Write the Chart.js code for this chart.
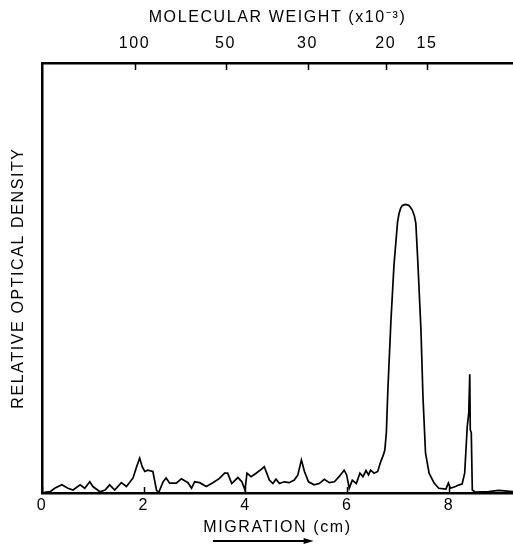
<!DOCTYPE html>
<html><head><meta charset="utf-8">
<script src="https://cdn.jsdelivr.net/npm/chart.js@4/dist/chart.umd.min.js"></script>
<style>html,body{margin:0;padding:0;background:#fff}canvas{display:block}</style>
</head><body>
<canvas id="c" width="513" height="545"></canvas>
<script>
// Migration distance (cm)
const migrationCm = [
  0.00,0.08,0.16,0.25,0.39,0.51,0.61,0.75,0.84,0.94,1.00,1.14,1.24,1.33,1.43,1.56,1.66,1.79,1.86,1.92,
  1.97,2.02,2.08,2.18,2.25,2.29,2.38,2.44,2.51,2.64,2.74,2.87,2.94,3.00,3.10,3.23,3.36,3.49,3.59,3.65,
  3.73,3.85,3.93,3.99,4.03,4.11,4.21,4.31,4.37,4.47,4.54,4.60,4.67,4.76,4.86,4.96,5.03,5.10,5.16,5.24,
  5.35,5.45,5.55,5.65,5.75,5.84,5.94,5.99,6.04,6.10,6.18,6.25,6.31,6.37,6.42,6.46,6.53,6.60,6.66,6.71,
  6.74,6.77,6.80,6.86,6.92,6.99,7.02,7.05,7.08,7.12,7.15,7.18,7.21,7.24,7.28,7.32,7.35,7.39,7.45,7.49,
  7.54,7.61,7.71,7.80,7.94,7.99,8.03,8.13,8.20,8.26,8.31,8.36,8.39,8.41,8.42,8.44,8.46,8.52,8.78,8.90,
  8.98,9.26
];
// Relative optical density (arbitrary units, 0-100 = full axis)
const density = [
  0.0,0.2,0.3,1.1,1.9,1.1,0.7,1.9,1.1,2.6,1.5,0.3,0.7,1.9,0.7,2.4,1.5,3.5,6.1,8.1,
  6.1,5.0,5.3,5.0,0.7,0.0,2.6,3.5,2.3,2.3,3.3,2.4,1.1,2.6,2.4,1.5,2.4,3.4,4.6,4.6,
  2.2,3.6,2.6,0.7,4.6,3.8,4.6,5.5,6.1,3.0,2.2,3.2,2.2,2.6,2.4,3.0,4.2,7.7,5.0,2.6,
  1.9,2.2,3.2,2.4,2.6,3.8,5.3,4.2,1.1,3.0,2.2,4.6,3.8,5.2,4.2,5.3,4.6,5.0,7.3,8.8,
  10.0,14.0,24.0,40.0,53.0,63.0,65.0,66.2,66.8,67.0,67.1,67.0,66.9,66.5,65.8,64.5,62.7,53.5,38.0,22.4,
  9.3,4.6,2.3,1.1,0.9,2.3,1.1,1.5,1.9,2.1,4.6,15.4,18.6,27.6,14.7,14.0,0.7,0.2,0.3,0.5,
  0.6,0.3
];
const bottomTicks = [0, 2, 4, 6, 8];
const mwTickPositions = [1.82, 3.61, 5.22, 6.76, 7.57];
const mwTickLabels = ['100', '50', '30', '20', '15'];
const xMax = 9.26;

const points = migrationCm.map((x, i) => ({x: x, y: density[i]}));

Chart.defaults.font.family = '"Liberation Sans", Arial, Helvetica, sans-serif';
Chart.defaults.color = '#000';

const decor = {
  id: 'decor',
  beforeDraw(chart) {
    const ctx = chart.ctx;
    ctx.save();
    ctx.fillStyle = '#fff';
    ctx.fillRect(0, 0, chart.width, chart.height);
    ctx.restore();
    ctx.letterSpacing = '1.6px';
  },
  afterDraw(chart) {
    const ctx = chart.ctx, a = chart.chartArea;
    const xb = chart.scales.x, xt = chart.scales.x2;
    ctx.save();
    ctx.strokeStyle = '#000';
    ctx.lineWidth = 1.5;
    ctx.beginPath();
    bottomTicks.forEach(v => {
      const px = Math.round(xb.getPixelForValue(v)) + 0.5;
      ctx.moveTo(px, a.bottom); ctx.lineTo(px, a.bottom - 6);
    });
    mwTickPositions.forEach(v => {
      const px = Math.round(xt.getPixelForValue(v)) + 0.5;
      ctx.moveTo(px, a.top); ctx.lineTo(px, a.top + 7);
    });
    ctx.stroke();
    // arrow under the migration title
    const x0 = xb.getPixelForValue(3.36), x1 = xb.getPixelForValue(5.34);
    const y = chart.height - 4;
    ctx.lineWidth = 2;
    ctx.beginPath(); ctx.moveTo(x0, y); ctx.lineTo(x1 - 6, y); ctx.stroke();
    ctx.fillStyle = '#000';
    ctx.beginPath(); ctx.moveTo(x1, y); ctx.lineTo(x1 - 10, y - 3); ctx.lineTo(x1 - 10, y + 3); ctx.closePath(); ctx.fill();
    ctx.restore();
  }
};

new Chart(document.getElementById('c'), {
  type: 'line',
  data: {
    datasets: [{
      data: points,
      borderColor: '#000',
      borderWidth: 1.7,
      pointRadius: 0,
      tension: 0,
      fill: false
    }]
  },
  options: {
    responsive: false,
    animation: false,
    layout: {padding: 0},
    plugins: {legend: {display: false}, tooltip: {enabled: false}},
    scales: {
      x: {
        type: 'linear', position: 'bottom', min: 0, max: xMax,
        afterBuildTicks(s) { s.ticks = bottomTicks.map(v => ({value: v})); },
        ticks: {font: {size: 16}, padding: 3, maxRotation: 0, autoSkip: false, color: '#000'},
        grid: {display: false, drawTicks: false},
        border: {display: true, color: '#000', width: 2.5},
        title: {display: true, text: 'MIGRATION (cm)', font: {size: 16}, color: '#000', padding: {top: 0, bottom: 8}},
        afterFit(s) { s.height = 52; }
      },
      x2: {
        type: 'linear', position: 'top', min: 0, max: xMax,
        afterBuildTicks(s) { s.ticks = mwTickPositions.map(v => ({value: v})); },
        ticks: {font: {size: 16}, padding: 10, maxRotation: 0, autoSkip: false, color: '#000',
                callback: (v, i) => mwTickLabels[i]},
        grid: {display: false, drawTicks: false},
        border: {display: true, color: '#000', width: 2.5},
        title: {display: true, text: 'MOLECULAR WEIGHT (x10⁻³)', font: {size: 16}, color: '#000', padding: {top: 8, bottom: 0}},
        afterFit(s) { s.height = 63; }
      },
      y: {
        min: 0, max: 100,
        ticks: {display: false},
        grid: {display: false, drawTicks: false},
        border: {display: true, color: '#000', width: 2.5},
        title: {display: true, text: 'RELATIVE OPTICAL DENSITY', font: {size: 16}, color: '#000', padding: {top: 9, bottom: 0}},
        afterFit(s) { s.width = 42; }
      }
    }
  },
  plugins: [decor]
});
</script>
</body></html>
